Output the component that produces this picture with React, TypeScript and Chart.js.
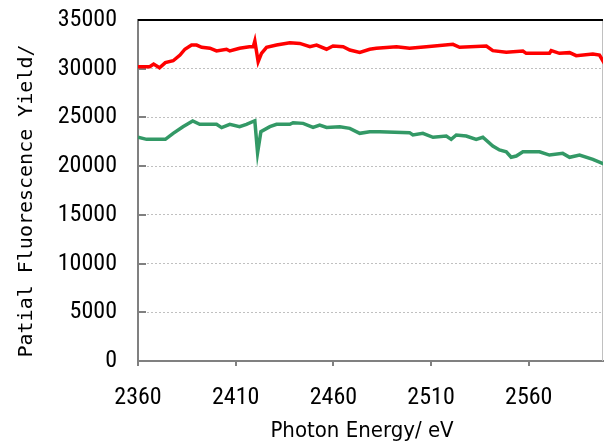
import React, { useEffect, useRef } from "react";
import { Chart, registerables } from "chart.js";
Chart.register(...registerables);

const redEnergies = [2360,2366,2368,2371,2374,2378,2381.5,2384,2387.4,2390,2392.6,2396.8,2400.2,2405.3,2407,2412,2417,2419,2419.8,2421.5,2423.2,2425.8,2430.9,2437.7,2442.8,2448,2451.4,2456.5,2459.8,2465,2468.4,2473.5,2478.6,2482,2492.3,2499,2507.6,2521.2,2524.6,2538.3,2541.6,2548.5,2557,2558.7,2570.6,2571.5,2575.7,2580.9,2584.3,2592.8,2596.2,2598.7];
const redValues = [30200,30200,30480,30100,30620,30820,31400,32000,32430,32430,32200,32100,31820,32000,31820,32100,32260,32260,32840,30720,31580,32200,32430,32670,32600,32260,32430,32000,32330,32260,31920,31680,32000,32100,32260,32100,32260,32500,32200,32330,31850,31680,31820,31580,31580,31850,31580,31650,31340,31510,31400,30550];

const greenEnergies = [2360,2364.4,2374,2378,2383,2388,2391.6,2400.2,2402.8,2407,2412,2415.5,2419.8,2421.2,2422.9,2427.5,2430.9,2437.7,2439.4,2444.5,2449.6,2453,2456.5,2463.3,2468.4,2473.5,2478.6,2483.7,2499,2500.7,2505.8,2511,2517.8,2520.3,2522.9,2528,2533.1,2536.5,2541.6,2545,2548.5,2551,2553.6,2557,2565.5,2570.6,2577.4,2580.9,2586,2592.8,2598.7];
const greenValues = [22960,22750,22750,23370,24050,24630,24290,24290,23950,24290,24050,24290,24660,21380,23540,24050,24290,24290,24460,24390,23970,24220,23970,24050,23880,23370,23540,23540,23440,23200,23370,22960,23090,22750,23200,23090,22750,22960,22070,21660,21480,20910,21040,21480,21480,21140,21310,20910,21140,20690,20190];

const xTicks = [2360, 2410, 2460, 2510, 2560];
const yTicks = [0, 5000, 10000, 15000, 20000, 25000, 30000, 35000];
const xTitle = "Photon Energy/ eV";
const yTitle = "Patial Fluorescence Yield/";

const FONT = "'Roboto Condensed', 'DejaVu Sans Condensed', sans-serif";

const framePlugin = {
  id: "frame",
  beforeDatasetsDraw(chart: any) {
    const { ctx, chartArea } = chart;
    const ys = chart.scales.y;
    ctx.save();
    ctx.strokeStyle = "#808080";
    ctx.lineWidth = 2;
    yTicks.forEach((v) => {
      const py = Math.round(ys.getPixelForValue(v));
      ctx.beginPath();
      ctx.moveTo(chartArea.left, py);
      ctx.lineTo(chartArea.left + 8, py);
      ctx.stroke();
    });
    ctx.lineWidth = 1;
    ctx.strokeStyle = "#c0c0c0";
    ctx.beginPath();
    ctx.moveTo(chartArea.right - 0.5, chartArea.top);
    ctx.lineTo(chartArea.right - 0.5, chartArea.bottom);
    ctx.stroke();
    ctx.lineWidth = 2;
    ctx.strokeStyle = "#000000";
    ctx.beginPath();
    ctx.moveTo(chartArea.left, chartArea.top);
    ctx.lineTo(chartArea.right, chartArea.top);
    ctx.stroke();
    ctx.restore();
  },
  afterDraw(chart: any) {
    const { ctx, chartArea } = chart;
    ctx.save();
    ctx.fillStyle = "#000";
    ctx.textAlign = "center";
    ctx.textBaseline = "alphabetic";
    ctx.font = "22px 'DejaVu Sans Condensed', sans-serif";
    ctx.fillText(xTitle, chartArea.left + 224, 437);
    ctx.translate(32, chartArea.top + 181);
    ctx.rotate(-Math.PI / 2);
    ctx.font = "20px 'DejaVu Sans Mono', monospace";
    ctx.fillText(yTitle, 0, 0);
    ctx.restore();
  },
};

export default function App() {
  const ref = useRef<HTMLCanvasElement>(null);
  useEffect(() => {
    if (!ref.current) return;
    const chart = new Chart(ref.current, {
      type: "line",
      data: {
        datasets: [
          {
            data: redEnergies.map((e, i) => ({ x: e, y: redValues[i] })),
            borderColor: "#ff0000",
            backgroundColor: "#ff0000",
            borderWidth: 3.5,
            pointRadius: 0,
            tension: 0,
          },
          {
            data: greenEnergies.map((e, i) => ({ x: e, y: greenValues[i] })),
            borderColor: "#339966",
            backgroundColor: "#339966",
            borderWidth: 3.5,
            pointRadius: 0,
            tension: 0,
          },
        ],
      },
      options: {
        animation: false,
        responsive: true,
        maintainAspectRatio: false,
        layout: { padding: { top: 20, right: 3, left: 0, bottom: 0 } },
        plugins: { legend: { display: false }, tooltip: { enabled: false } },
        scales: {
          x: {
            type: "linear",
            min: 2360,
            max: 2598,
            afterBuildTicks: (s: any) => {
              s.ticks = xTicks.map((v) => ({ value: v }));
            },
            afterFit: (s: any) => {
              s.height = 80;
              s.paddingLeft = 0;
              s.paddingRight = 0;
            },
            ticks: {
              color: "#000",
              font: { family: FONT, size: 24 },
              padding: 18,
              maxRotation: 0,
              autoSkip: false,
              callback: (v: any) => String(v),
            },
            grid: { drawOnChartArea: false, drawTicks: true, tickLength: 5, color: "#808080", lineWidth: 2 },
            border: { color: "#808080", width: 2 },
          },
          y: {
            min: 0,
            max: 35000,
            afterBuildTicks: (s: any) => {
              s.ticks = yTicks.map((v) => ({ value: v }));
            },
            afterFit: (s: any) => {
              s.width = 138;
              s.paddingTop = 0;
              s.paddingBottom = 0;
            },
            ticks: {
              color: "#000",
              font: { family: FONT, size: 24 },
              padding: 21,
              callback: (v: any) => String(v),
            },
            grid: { drawTicks: false, color: "#c0c0c0", lineWidth: 1 },
            border: { color: "#808080", width: 2, dash: [2, 2] },
          },
        },
      },
      plugins: [framePlugin],
    });
    return () => chart.destroy();
  }, []);
  return (
    <div style={{ position: "absolute", left: 0, top: 0, width: 606, height: 441, background: "#fff" }}>
      <canvas ref={ref} />
    </div>
  );
}
